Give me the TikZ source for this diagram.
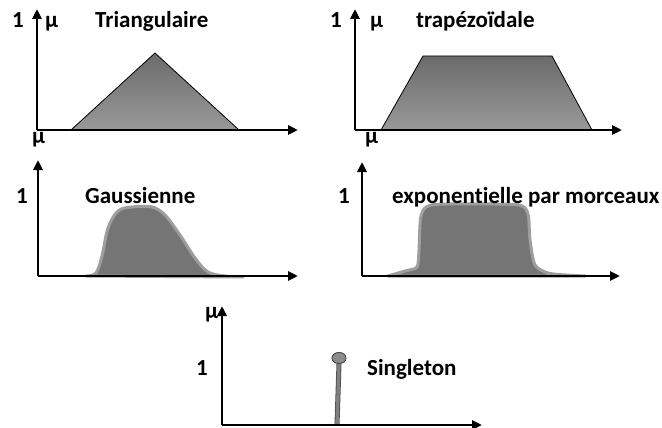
\documentclass[tikz,border=0pt]{standalone}
\usepackage{fontspec}
\setmainfont{Carlito}[Ligatures=NoCommon]
\usetikzlibrary{arrows.meta, positioning, shapes.geometric}
\tikzset{
  axis/.style={-{Triangle[length=10pt,width=9pt]}, line width=2.6pt},
  mflabel/.style={font=\bfseries\fontsize{23}{27}\selectfont, inner sep=0pt, anchor=base west},
  mfshape/.style={draw=black, line width=0.8pt, top color=black!58, bottom color=black!40},
  mfsmooth/.style={draw=black!38, line width=3pt, fill=black!54, line join=round},
  ball/.style={ellipse, draw=black!75, line width=0.7pt, fill=black!45, minimum width=14pt, minimum height=11pt, inner sep=0pt},
}

\begin{document}
\begin{tikzpicture}[x=1pt, y=-1pt]
    \useasboundingbox (0,0) rectangle (662,428);

    % =========================================================================
    % TOP LEFT: triangular membership function
    % =========================================================================
    \coordinate (triO) at (37,130);
    \coordinate (triY) at (37,9);
    \coordinate (triX) at (298,130);

    \draw[mfshape] (71,130) -- (155,53) -- (239,130) -- cycle;
    \draw[axis] (triO) -- (triY);
    \draw[axis] (triO) -- (triX);

    \node[mflabel] (triOne) at (12,28) {1};
    \node[mflabel] (triMu) at (45,28) {μ};
    \node[mflabel] (triName) at (95,28) {Triangulaire};
    \node[mflabel] (triMuX) at (32,143) {μ};

    % =========================================================================
    % TOP RIGHT: trapezoidal membership function
    % =========================================================================
    \coordinate (trapO) at (355,130);
    \coordinate (trapY) at (355,9);
    \coordinate (trapX) at (622,130);

    \draw[mfshape] (381,130) -- (423,56) -- (552,56) -- (592,130) -- cycle;
    \draw[axis] (trapO) -- (trapY);
    \draw[axis] (trapO) -- (trapX);

    \node[mflabel] (trapOne) at (330,28) {1};
    \node[mflabel] (trapMu) at (370,28) {μ};
    \node[mflabel] (trapName) at (416,28) {trapézoïdale};
    \node[mflabel] (trapMuX) at (365,143) {μ};

    % =========================================================================
    % MIDDLE LEFT: Gaussian membership function
    % =========================================================================
    \coordinate (gauO) at (38,276);
    \coordinate (gauY) at (38,160);
    \coordinate (gauX) at (298,276);

    \draw[mfsmooth] plot[smooth, tension=0.55] coordinates {
        (86,276) (96,273) (102,256) (108,228) (118,211) (132,207)
        (152,207) (165,215) (180,235) (195,258) (208,272) (225,276) (243,277)}
        -- cycle;
    \draw[axis] (gauO) -- (gauY);
    \draw[axis] (gauO) -- (gauX);

    \node[mflabel] (gauOne) at (16,203) {1};
    \node[mflabel] (gauName) at (85,203) {Gaussienne};

    % =========================================================================
    % MIDDLE RIGHT: piecewise exponential membership function
    % =========================================================================
    \coordinate (expO) at (362,276);
    \coordinate (expY) at (362,162);
    \coordinate (expX) at (620,276);

    \draw[mfsmooth] plot[smooth, tension=0.45] coordinates {
        (388,276) (405,271) (417,267) (419,250) (421,216) (431,205)
        (475,204) (519,205) (528,214) (530,240) (535,265) (548,273)
        (566,275) (585,276)}
        -- cycle;
    \draw[axis] (expO) -- (expY);
    \draw[axis] (expO) -- (expX);

    \node[mflabel] (expOne) at (338,203) {1};
    \node[mflabel] (expName) at (392,203) {exponentielle par morceaux};

    % =========================================================================
    % BOTTOM: singleton
    % =========================================================================
    \coordinate (sglO) at (222,425);
    \coordinate (sglY) at (222,306);
    \coordinate (sglX) at (482,425);
    \coordinate (stemFoot) at (337,425);

    \node[ball] (sglBall) at (339,358) {};
    \draw[draw=black!70, line width=5pt] (sglBall.south) -- (stemFoot);
    \draw[draw=black!50, line width=3.4pt] (sglBall.south) -- (stemFoot);
    \node[ball] at (339,358) {};
    \draw[axis] (sglO) -- (sglY);
    \draw[axis] (sglO) -- (sglX);

    \node[mflabel] (sglMu) at (205,318) {μ};
    \node[mflabel] (sglOne) at (196,375) {1};
    \node[mflabel] (sglName) at (367,375) {Singleton};
\end{tikzpicture}
\end{document}
